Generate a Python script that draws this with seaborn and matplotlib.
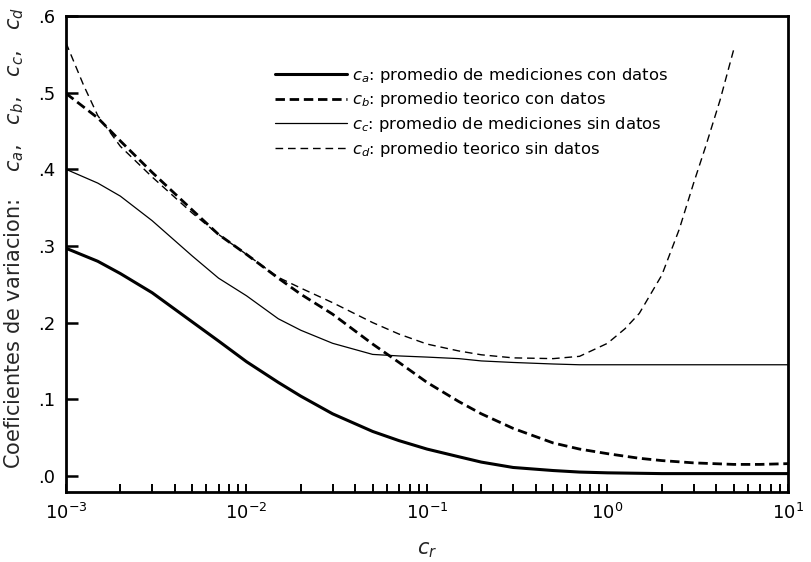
import numpy as np
import pandas as pd
import matplotlib
matplotlib.use("Agg")
import matplotlib.pyplot as plt
import matplotlib.ticker as mticker
import seaborn as sns

# ---- data ----
cr_a = [0.001, 0.0015, 0.002, 0.003, 0.005, 0.007, 0.01, 0.015, 0.02, 0.03, 0.05, 0.07,
        0.1, 0.15, 0.2, 0.3, 0.5, 0.7, 1.0, 2.0, 5.0, 10.0]
ca = [0.297, 0.280, 0.264, 0.239, 0.201, 0.176, 0.149, 0.122, 0.104, 0.081, 0.058, 0.046,
      0.035, 0.025, 0.018, 0.011, 0.007, 0.005, 0.004, 0.003, 0.003, 0.003]

cr_b = [0.001, 0.0015, 0.002, 0.003, 0.005, 0.007, 0.01, 0.015, 0.02, 0.03, 0.05, 0.07,
        0.1, 0.15, 0.2, 0.3, 0.5, 0.7, 1.0, 1.5, 2.0, 3.0, 5.0, 7.0, 10.0]
cb = [0.499, 0.467, 0.437, 0.396, 0.347, 0.315, 0.289, 0.258, 0.237, 0.211, 0.172, 0.148,
      0.122, 0.097, 0.081, 0.062, 0.043, 0.035, 0.029, 0.023, 0.020, 0.017, 0.015, 0.015, 0.016]

cr_c = [0.001, 0.0015, 0.002, 0.003, 0.005, 0.007, 0.01, 0.015, 0.02, 0.03, 0.05, 0.07,
        0.1, 0.15, 0.2, 0.3, 0.5, 0.7, 1.0, 2.0, 5.0, 10.0]
cc = [0.400, 0.382, 0.365, 0.333, 0.287, 0.258, 0.235, 0.205, 0.190, 0.173, 0.1585, 0.1565,
      0.155, 0.153, 0.150, 0.148, 0.146, 0.145, 0.145, 0.145, 0.145, 0.145]

cr_d = [0.001, 0.00125, 0.0015, 0.002, 0.003, 0.005, 0.007, 0.01, 0.015, 0.02, 0.03, 0.05,
        0.07, 0.1, 0.15, 0.2, 0.3, 0.5, 0.7, 1.0, 1.25, 1.5, 2.0, 2.5, 3.0, 3.5, 4.2, 5.0]
cd = [0.565, 0.510, 0.470, 0.430, 0.390, 0.343, 0.315, 0.289, 0.259, 0.245, 0.226, 0.200,
      0.185, 0.172, 0.163, 0.158, 0.154, 0.153, 0.156, 0.173, 0.192, 0.212, 0.262, 0.322,
      0.382, 0.430, 0.490, 0.556]

labels = [r"$c_a$: promedio de mediciones con datos",
          r"$c_b$: promedio teorico con datos",
          r"$c_c$: promedio de mediciones sin datos",
          r"$c_d$: promedio teorico sin datos"]
yticks = [0.0, 0.1, 0.2, 0.3, 0.4, 0.5, 0.6]
ytick_labels = [".0", ".1", ".2", ".3", ".4", ".5", ".6"]
xticks = [1e-3, 1e-2, 1e-1, 1e0, 1e1]
xtick_labels = [r"$10^{-3}$", r"$10^{-2}$", r"$10^{-1}$", r"$10^{0}$", r"$10^{1}$"]

frames = []
for key, xs, ys in [("a", cr_a, ca), ("b", cr_b, cb), ("c", cr_c, cc), ("d", cr_d, cd)]:
    frames.append(pd.DataFrame({"cr": xs, "cv": ys, "serie": key}))
df = pd.concat(frames, ignore_index=True)

sns.set_theme(style="white")
plt.rcParams["font.family"] = ["DejaVu Sans"]
plt.rcParams["mathtext.fontset"] = "dejavusans"

fig = plt.figure(figsize=(8.12, 5.62), dpi=100)
ax = fig.add_axes([66 / 812, 1 - 492 / 562, (788 - 66) / 812, (492 - 16) / 562])

styles = {
    "a": dict(linewidth=2.2, linestyle="-"),
    "b": dict(linewidth=2.0, linestyle=(0, (3.4, 1.7))),
    "c": dict(linewidth=0.9, linestyle="-"),
    "d": dict(linewidth=1.0, linestyle=(0, (5.5, 3.5))),
}
for key, lab in zip(["a", "b", "c", "d"], labels):
    sub = df[df["serie"] == key]
    sns.lineplot(data=sub, x="cr", y="cv", ax=ax, color="black", label=lab,
                 estimator=None, sort=False, **styles[key])

ax.set_xscale("log")
ax.set_xlim(1e-3, 1e1)
ax.set_ylim(-0.021, 0.6)

ax.set_xticks(xticks)
ax.set_xticklabels(xtick_labels, fontsize=13)
ax.xaxis.set_minor_locator(mticker.LogLocator(base=10, subs=np.arange(2, 10)))
ax.xaxis.set_minor_formatter(mticker.NullFormatter())
ax.set_yticks(yticks)
ax.set_yticklabels(ytick_labels, fontsize=13)

ax.tick_params(axis="x", which="both", direction="in", length=6, width=1.4,
               top=False, bottom=True, pad=8, colors="black")
ax.tick_params(axis="y", which="major", direction="in", length=8.5, width=1.8,
               left=True, right=False, pad=8, colors="black")
ax.tick_params(axis="y", which="minor", left=False, right=False)

for s in ax.spines.values():
    s.set_linewidth(2.0)
    s.set_color("black")

ax.set_xlabel(r"$c_r$", fontsize=15, labelpad=12)
ax.set_ylabel(r"Coeficientes de variacion:    $c_a$,   $c_b$,   $c_c$,   $c_d$",
              fontsize=15)
ax.yaxis.set_label_coords(-0.056, (492 - 238) / 476)

leg = ax.legend(loc="upper left", bbox_to_anchor=(0.29, 0.896), frameon=False,
                fontsize=11.8, handlelength=4.4, handletextpad=0.3, labelspacing=0.35,
                borderpad=0, borderaxespad=0)
for t in leg.get_texts():
    t.set_color("black")

fig.savefig("out.png", dpi=100)
